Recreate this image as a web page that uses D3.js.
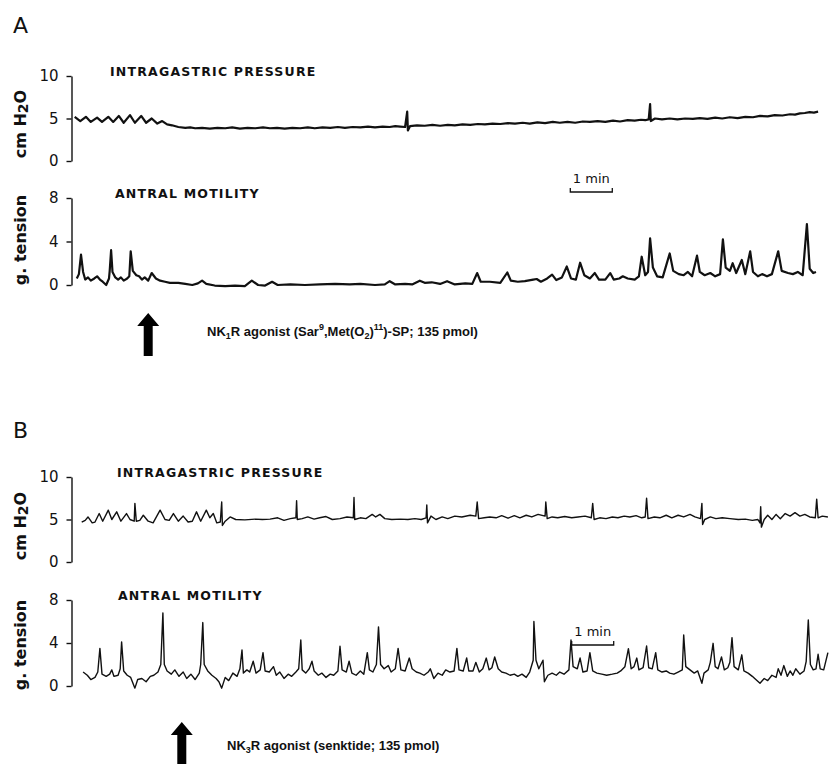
<!DOCTYPE html>
<html><head><meta charset="utf-8">
<script src="https://cdn.jsdelivr.net/npm/d3@7/dist/d3.min.js"></script>
<style>
html,body{margin:0;padding:0;background:#fff;}
svg{display:block;}
.tick text{font-family:"DejaVu Sans",sans-serif;font-size:15px;fill:#111;}
.title{font-family:"DejaVu Sans",sans-serif;font-weight:bold;font-size:12.5px;letter-spacing:1.2px;fill:#111;}
.ylab{font-family:"DejaVu Sans",sans-serif;font-weight:bold;font-size:16px;fill:#111;}
.panel{font-family:"DejaVu Sans",sans-serif;font-weight:normal;font-size:22px;fill:#111;}
.note{font-family:"Liberation Sans",Arial,sans-serif;font-weight:bold;font-size:13px;fill:#111;}
.scale{font-family:"DejaVu Sans",sans-serif;font-size:13px;fill:#111;}
</style></head>
<body>
<svg id="chart" width="830" height="764"></svg>
<script>
// ---- data: time in seconds, values in cm H2O / g tension ----
const pressureTicks = [0, 5, 10];
const tensionTicks = [0, 4, 8];
const panelLetters = ["A", "B"];
const traceTitles = ["INTRAGASTRIC PRESSURE", "ANTRAL MOTILITY"];
const agonistTimes = [106, 154];

const pressureA = [[1,5.2],[9,4.7],[17,5.2],[24,4.6],[33,5.1],[40,4.6],[49,5.2],[56,4.6],[64,5.3],[71,4.5],[80,5.4],[87,4.5],[96,5.3],[103,4.5],[111,5.0],[119,4.4],[126,4.7],[133,4.3],[140,4.2],[149,4.0],[159,3.9],[166,3.95],[173,3.85],[183,3.9],[194,3.8],[205,3.9],[216,3.85],[226,3.95],[237,3.8],[248,3.9],[259,3.85],[270,3.95],[280,3.85],[290,3.9],[301,3.8],[312,3.9],[323,3.85],[334,3.95],[344,3.85],[355,3.95],[366,3.9],[377,4.0],[387,3.9],[398,4.0],[409,3.95],[420,4.05],[430,3.95],[441,4.05],[451,4.0],[459,4.1],[466,4.05],[473,4.0],[476,5.8],[477,3.6],[480,4.1],[490,4.2],[501,4.15],[512,4.25],[523,4.15],[534,4.25],[544,4.2],[555,4.3],[566,4.25],[577,4.35],[587,4.3],[598,4.4],[609,4.35],[620,4.45],[630,4.4],[641,4.5],[651,4.4],[662,4.55],[673,4.45],[684,4.6],[694,4.5],[705,4.6],[716,4.5],[727,4.65],[737,4.6],[748,4.7],[759,4.6],[770,4.75],[780,4.65],[791,4.8],[801,4.75],[810,4.85],[816,4.8],[821,4.9],[823,6.7],[824,4.7],[830,5.0],[840,4.9],[851,5.0],[862,4.9],[873,5.0],[884,4.95],[894,5.05],[905,4.95],[916,5.1],[926,5.0],[937,5.15],[948,5.05],[959,5.2],[970,5.15],[980,5.3],[991,5.25],[1001,5.4],[1012,5.35],[1023,5.5],[1030,5.45],[1037,5.6],[1044,5.65],[1051,5.75],[1057,5.7],[1063,5.8]];

const tensionA = [[4,0.6],[7,1.0],[10,2.8],[13,1.2],[16,0.5],[20,0.7],[24,0.4],[29,0.6],[33,0.8],[37,0.5],[41,0.3],[46,0.0],[50,0.6],[51,1.3],[53,3.2],[55,1.2],[59,0.7],[63,0.5],[67,0.7],[71,0.4],[76,0.6],[79,0.8],[81,3.1],[84,1.3],[89,0.9],[93,0.8],[97,0.5],[101,0.7],[106,0.4],[111,1.1],[117,0.6],[123,0.4],[130,0.3],[137,0.2],[149,0.2],[159,0.1],[169,0.0],[177,0.15],[183,0.4],[189,0.1],[201,-0.05],[216,-0.1],[230,-0.05],[244,-0.1],[254,0.4],[263,0.0],[273,-0.05],[283,0.3],[291,0.0],[309,0.05],[330,0.0],[351,0.05],[373,0.1],[394,0.05],[409,0.1],[430,0.0],[444,0.05],[451,0.35],[459,0.05],[473,0.1],[483,0.05],[494,0.4],[501,0.2],[511,0.25],[523,0.1],[533,0.35],[544,0.05],[559,0.15],[569,0.1],[576,1.1],[581,0.3],[594,0.3],[609,0.2],[619,1.15],[624,0.4],[634,0.3],[644,0.35],[656,0.5],[661,0.55],[667,0.3],[676,0.6],[683,0.95],[689,0.45],[697,0.7],[704,1.7],[710,0.6],[717,0.5],[723,2.05],[729,0.9],[737,0.6],[744,1.1],[750,0.5],[759,0.5],[766,1.1],[771,0.5],[779,0.6],[784,0.8],[791,0.6],[801,0.5],[807,0.8],[811,2.6],[816,0.9],[820,1.2],[823,4.3],[827,1.6],[833,0.8],[841,0.7],[851,2.9],[856,1.3],[864,1.0],[871,0.9],[877,1.2],[883,0.8],[890,2.7],[894,1.2],[901,0.9],[909,1.1],[916,0.8],[923,1.0],[927,4.2],[931,1.6],[937,1.3],[941,2.0],[946,1.1],[954,2.3],[959,1.0],[966,3.1],[970,1.2],[977,0.8],[983,1.0],[990,0.8],[997,1.0],[1006,3.1],[1011,1.3],[1020,1.1],[1027,1.0],[1034,1.2],[1041,0.9],[1047,5.6],[1051,1.5],[1056,1.1],[1060,1.2]];

const pressureB = [[11,4.7],[16,4.9],[20,5.3],[26,4.6],[30,4.7],[36,5.7],[41,4.8],[49,6.1],[54,5.0],[61,5.9],[67,4.8],[75,5.7],[80,5.0],[86,4.8],[87,6.9],[89,4.8],[94,4.9],[99,5.5],[106,4.8],[113,4.6],[123,6.1],[130,5.0],[136,4.9],[142,5.7],[149,4.8],[156,5.4],[163,4.7],[169,4.8],[175,5.9],[181,4.8],[189,6.1],[194,5.2],[199,5.7],[204,4.6],[209,4.7],[211,7.06],[212,4.3],[216,4.8],[223,5.3],[231,5.0],[244,4.95],[259,5.05],[269,5.0],[280,5.05],[291,5.2],[300,4.9],[309,5.1],[317,5.2],[318,7.2],[319,5.0],[326,5.1],[334,5.3],[343,5.05],[351,5.2],[360,5.35],[369,5.0],[380,5.1],[390,5.3],[399,5.2],[400,7.6],[401,5.0],[409,5.2],[417,5.1],[426,5.6],[431,5.3],[437,5.6],[444,5.1],[454,5.0],[466,5.05],[477,5.0],[487,5.1],[496,5.0],[503,5.2],[504,6.7],[505,4.6],[510,5.4],[517,5.0],[526,5.3],[534,5.1],[544,5.4],[554,5.3],[566,5.5],[574,5.4],[576,7.06],[578,5.1],[586,5.2],[594,5.3],[603,5.2],[611,5.45],[620,5.15],[629,5.45],[637,5.2],[646,5.5],[654,5.3],[663,5.6],[673,5.4],[674,7.06],[676,5.1],[683,5.3],[691,5.2],[701,5.35],[711,5.2],[720,5.3],[730,5.4],[739,5.2],[741,6.9],[743,5.0],[751,5.2],[760,5.1],[769,5.3],[777,5.2],[786,5.4],[794,5.3],[803,5.45],[811,5.2],[816,5.3],[818,7.5],[820,5.1],[829,5.3],[837,5.2],[846,5.5],[854,5.2],[863,5.5],[871,5.3],[880,5.6],[887,5.3],[895,5.1],[897,6.9],[898,4.4],[901,5.0],[909,5.3],[917,5.1],[926,5.2],[937,5.1],[949,5.0],[959,5.05],[969,4.9],[977,5.0],[980,4.6],[981,6.5],[982,4.1],[986,5.0],[991,5.5],[997,5.0],[1003,5.6],[1009,5.1],[1016,5.7],[1023,5.4],[1030,5.8],[1037,5.4],[1044,5.6],[1051,5.3],[1059,5.2],[1061,7.4],[1063,5.2],[1069,5.4],[1077,5.3]];

const tensionB = [[13,1.3],[19,1.0],[24,0.6],[30,0.8],[34,1.3],[37,3.5],[40,1.1],[46,0.9],[51,1.1],[54,1.5],[57,0.9],[63,1.0],[66,1.6],[68,4.1],[71,1.4],[76,1.0],[81,0.8],[87,-0.2],[91,0.6],[97,0.7],[103,0.4],[109,0.9],[114,1.0],[120,1.3],[124,2.0],[127,6.8],[129,2.0],[133,1.4],[139,1.1],[144,1.5],[150,0.9],[156,1.3],[161,0.7],[167,1.1],[173,0.6],[179,1.2],[181,2.0],[184,5.9],[186,2.0],[191,1.4],[197,1.0],[203,0.7],[207,0.4],[211,-0.2],[216,0.8],[221,0.5],[227,1.2],[233,0.9],[237,1.6],[240,3.35],[242,1.2],[247,1.5],[251,1.3],[256,2.3],[260,1.2],[266,1.5],[270,3.1],[273,1.4],[279,1.3],[285,1.8],[289,1.0],[294,1.3],[300,0.7],[306,1.1],[311,0.9],[317,1.3],[321,1.6],[324,4.28],[326,1.5],[331,1.2],[336,1.6],[340,2.3],[343,1.4],[349,1.0],[354,1.2],[360,0.8],[366,1.1],[371,1.0],[377,1.4],[380,3.7],[383,1.5],[389,1.3],[393,2.3],[397,1.2],[403,1.0],[409,1.4],[414,1.1],[419,3.1],[422,1.5],[427,1.3],[432,2.0],[435,5.5],[438,2.0],[443,1.6],[449,1.9],[453,1.3],[459,1.6],[463,3.5],[467,1.5],[473,1.4],[479,2.6],[483,1.6],[489,1.3],[494,1.2],[500,1.0],[506,1.3],[509,1.6],[514,0.7],[520,1.2],[526,1.0],[531,1.5],[537,1.3],[543,1.4],[547,3.5],[550,1.5],[556,1.4],[561,2.6],[564,1.4],[570,1.4],[574,2.2],[579,1.3],[584,1.6],[589,2.6],[593,1.5],[597,1.7],[601,2.7],[606,1.6],[611,1.3],[617,1.2],[623,1.0],[629,1.1],[634,0.9],[640,1.1],[646,0.8],[651,1.3],[656,2.4],[657,6.0],[660,2.4],[664,1.6],[670,2.4],[672,0.4],[677,1.0],[683,1.2],[689,1.0],[694,1.3],[700,1.1],[707,1.5],[710,4.28],[713,1.8],[719,1.6],[723,2.6],[727,1.3],[733,1.4],[737,3.1],[741,1.4],[747,1.2],[754,1.1],[761,1.0],[769,1.1],[776,1.2],[781,1.4],[787,1.8],[792,3.47],[796,1.6],[800,1.8],[804,2.6],[807,1.5],[813,1.7],[818,3.72],[821,1.7],[826,1.6],[831,3.1],[834,1.5],[840,1.3],[846,1.4],[851,1.2],[857,1.1],[863,1.3],[869,1.5],[871,4.74],[874,1.8],[880,1.5],[886,1.2],[891,1.4],[897,0.25],[900,1.2],[906,1.5],[909,2.2],[913,3.97],[916,1.8],[920,1.6],[925,2.7],[929,1.5],[934,1.7],[937,2.2],[940,4.5],[943,1.8],[949,1.5],[954,2.9],[957,1.4],[963,1.2],[969,0.9],[974,0.6],[980,0.25],[986,0.7],[991,0.5],[997,1.0],[1003,0.8],[1006,1.6],[1010,1.0],[1014,1.9],[1019,0.9],[1023,1.4],[1027,1.0],[1031,1.6],[1037,1.1],[1043,1.4],[1046,2.3],[1049,6.14],[1052,2.0],[1056,1.5],[1060,1.6],[1063,2.95],[1066,1.6],[1071,1.5],[1077,3.1]];

const scaleBarStart = [709, 711];   // seconds
const scaleBarLength = 60;          // 1 min

// ---- layout ----
const svg = d3.select("#chart");
const x = d3.scaleLinear().domain([0, 1100]).range([74, 844]);
const axisX = 71.5;

const panels = [
  {letter: panelLetters[0], letterY: 33,
   p: {data: pressureA, range: [161, 76], titleX: 110, titleY: 76, labelY: 124},
   t: {data: tensionA, range: [285, 198], titleX: 115, titleY: 198, labelY: 240},
   width: 2.2, bar: {t: scaleBarStart[0], y: 192, textY: 183},
   arrow: {t: agonistTimes[0], top: 313, bottom: 356}, noteX: 207, noteY: 336, note: 0},
  {letter: panelLetters[1], letterY: 438,
   p: {data: pressureB, range: [562, 477], titleX: 117, titleY: 477, labelY: 526},
   t: {data: tensionB, range: [686, 600], titleX: 118, titleY: 600, labelY: 645},
   width: 1.4, bar: {t: scaleBarStart[1], y: 645, textY: 636},
   arrow: {t: agonistTimes[1], top: 722, bottom: 766}, noteX: 227, noteY: 750, note: 1}
];

function addYLabel(g, cx, cy, parts) {
  const t = g.append("text").attr("class", "ylab")
    .attr("transform", `translate(${cx},${cy}) rotate(-90)`)
    .attr("text-anchor", "middle");
  parts.forEach(p => {
    const s = t.append("tspan").text(p.s);
    if (p.dy) s.attr("dy", p.dy);
    if (p.fs) s.attr("font-size", p.fs);
  });
}

panels.forEach(P => {
  svg.append("text").attr("class", "panel").attr("x", 13).attr("y", P.letterY).text(P.letter);

  [["p", [0, 10], pressureTicks, 0], ["t", [0, 8], tensionTicks, 1]].forEach(([k, dom, ticks, ti]) => {
    const cfg = P[k];
    const y = d3.scaleLinear().domain(dom).range(cfg.range);
    const ax = svg.append("g").attr("transform", `translate(${axisX},0)`)
      .call(d3.axisLeft(y).tickValues(ticks).tickSize(5).tickSizeOuter(0).tickPadding(8));
    ax.selectAll("path,line").attr("stroke", "#111").attr("stroke-width", 1.4);
    svg.append("text").attr("class", "title").attr("x", cfg.titleX).attr("y", cfg.titleY).text(traceTitles[ti]);
    const line = d3.line().x(d => x(d[0])).y(d => y(d[1]));
    svg.append("path").datum(cfg.data).attr("d", line)
      .attr("fill", "none").attr("stroke", "#111").attr("stroke-width", P.width)
      .attr("stroke-linejoin", "round");
  });

  addYLabel(svg, 26, P.p.labelY, [{s: "cm H"}, {s: "2", dy: 2, fs: 14}, {s: "O", dy: -2}]);
  addYLabel(svg, 26, P.t.labelY, [{s: "g. tension"}]);

  // 1 min scale bar
  const x0 = x(P.bar.t), x1 = x(P.bar.t + scaleBarLength);
  svg.append("path").attr("d", `M${x0},${P.bar.y - 4}V${P.bar.y}H${x1}V${P.bar.y - 4}`)
    .attr("fill", "none").attr("stroke", "#111").attr("stroke-width", 1.3);
  svg.append("text").attr("class", "scale").attr("x", (x0 + x1) / 2).attr("y", P.bar.textY)
    .attr("text-anchor", "middle").text("1 min");

  // arrow
  const ac = x(P.arrow.t), a = P.arrow;
  svg.append("path").attr("d",
    `M${ac},${a.top}L${ac + 11},${a.top + 13}L${ac + 4.5},${a.top + 13}L${ac + 4.5},${a.bottom}L${ac - 4.5},${a.bottom}L${ac - 4.5},${a.top + 13}L${ac - 11},${a.top + 13}Z`)
    .attr("fill", "#000");

  const n = svg.append("text").attr("class", "note").attr("x", P.noteX).attr("y", P.noteY);
  const sub = s => n.append("tspan").attr("font-size", 9).attr("dy", 3).text(s);
  const sup = s => n.append("tspan").attr("font-size", 9).attr("dy", -6).text(s);
  const nor = (s, dy) => { const t = n.append("tspan").text(s); if (dy) t.attr("dy", dy); };
  if (P.note === 0) {
    nor("NK"); sub("1"); nor("R agonist (Sar", -3); sup("9"); nor(",Met(O", 6); sub("2");
    nor(")", -3); sup("11"); nor(")-SP; 135 pmol)", 6);
  } else {
    nor("NK"); sub("3"); nor("R agonist (senktide; 135 pmol)", -3);
  }
});
</script>
</body></html>
